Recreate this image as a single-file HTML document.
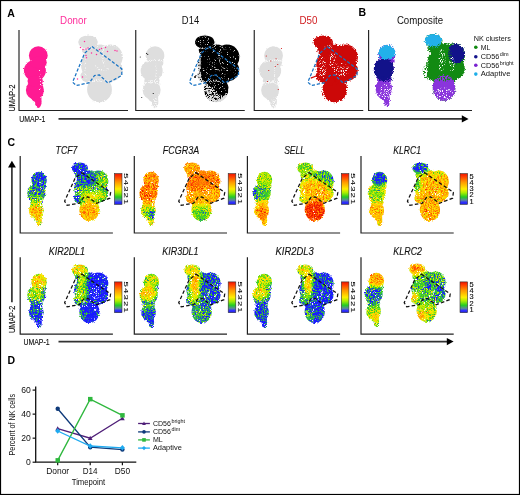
<!DOCTYPE html><html><head><meta charset="utf-8"><title>Figure</title><style>html,body{margin:0;padding:0;background:#fff}svg{display:block}</style></head><body>
<svg width="520" height="495" viewBox="0 0 520 495" font-family="'Liberation Sans', sans-serif">
<defs>
<g id="L"><ellipse cx="38.3" cy="55.6" rx="9.4" ry="9.4"/><ellipse cx="34.9" cy="70.5" rx="11.0" ry="10.6"/><ellipse cx="34.9" cy="90.0" rx="9.0" ry="9.6"/><ellipse cx="38.3" cy="101.5" rx="3.3" ry="6.4"/><ellipse cx="35.2" cy="81.0" rx="7.7" ry="6.0"/><ellipse cx="38.4" cy="62.5" rx="8.4" ry="6.0"/><ellipse cx="36.5" cy="98.0" rx="5.0" ry="4.0"/></g>
<g id="R"><ellipse cx="88.0" cy="42.0" rx="9.8" ry="6.6"/><ellipse cx="110.5" cy="57.0" rx="12.2" ry="12.4"/><ellipse cx="97.0" cy="65.0" rx="16.0" ry="16.0"/><ellipse cx="111.5" cy="70.0" rx="11.0" ry="11.0"/><ellipse cx="99.5" cy="89.5" rx="12.4" ry="12.7"/><ellipse cx="88.5" cy="76.0" rx="8.0" ry="6.5"/><ellipse cx="88.5" cy="50.0" rx="6.5" ry="6.0"/><ellipse cx="100.0" cy="50.0" rx="8.0" ry="5.5"/><ellipse cx="106.0" cy="78.0" rx="8.0" ry="6.0"/><ellipse cx="93.0" cy="80.0" rx="6.0" ry="6.0"/></g>
<path id="P" d="M92.0 46.6L121.8 68.9L121.8 75.5L107.8 83.0L99.5 75.0L94.5 75.5L89.5 82.7L76.3 85.5L72.6 82.2L84.6 53.2Z" fill="none"/>
<path id="PC" d="M61.5 -60.4L90.4 -40.7L89.6 -34.8L76.5 -29.7L67.6 -36.2L63.4 -35.4L59.3 -29.8L46.9 -27.7L44.4 -31.8L54.8 -54.5 Z" fill="none"/>
<g id="Lgap" fill="none" stroke="#f6f6f6" stroke-linecap="round"><path d="M29.5 61.8Q38 59 46.5 60.6" stroke-width="2"/><path d="M27.5 84Q35 80 43 83" stroke-width="3.6"/><path d="M38.5 100V107" stroke-width="4.5"/><path d="M39 64Q41 74 38 82" stroke-width="1.2"/></g>
<g id="Rgap" fill="none" stroke="#f6f6f6" stroke-linecap="round" stroke-width="1.8"><path d="M81 47.5Q90 49.5 97.5 46"/><path d="M103.5 47Q100.5 57 105.5 66"/><path d="M89 82Q98 78.5 110 82" stroke-width="2.6"/><path d="M95 66Q100 72 108 69"/><path d="M86 58Q84 68 86 78" stroke-width="1.4"/></g>
<clipPath id="cLR"><ellipse cx="38.3" cy="55.6" rx="9.4" ry="9.4"/><ellipse cx="34.9" cy="70.5" rx="11.0" ry="10.6"/><ellipse cx="34.9" cy="90.0" rx="9.0" ry="9.6"/><ellipse cx="38.3" cy="101.5" rx="3.3" ry="6.4"/><ellipse cx="35.2" cy="81.0" rx="7.7" ry="6.0"/><ellipse cx="38.4" cy="62.5" rx="8.4" ry="6.0"/><ellipse cx="36.5" cy="98.0" rx="5.0" ry="4.0"/><ellipse cx="88.0" cy="42.0" rx="9.8" ry="6.6"/><ellipse cx="110.5" cy="57.0" rx="12.2" ry="12.4"/><ellipse cx="97.0" cy="65.0" rx="16.0" ry="16.0"/><ellipse cx="111.5" cy="70.0" rx="11.0" ry="11.0"/><ellipse cx="99.5" cy="89.5" rx="12.4" ry="12.7"/><ellipse cx="88.5" cy="76.0" rx="8.0" ry="6.5"/><ellipse cx="88.5" cy="50.0" rx="6.5" ry="6.0"/><ellipse cx="100.0" cy="50.0" rx="8.0" ry="5.5"/><ellipse cx="106.0" cy="78.0" rx="8.0" ry="6.0"/><ellipse cx="93.0" cy="80.0" rx="6.0" ry="6.0"/></clipPath>
<clipPath id="cL"><ellipse cx="38.3" cy="55.6" rx="9.4" ry="9.4"/><ellipse cx="34.9" cy="70.5" rx="11.0" ry="10.6"/><ellipse cx="34.9" cy="90.0" rx="9.0" ry="9.6"/><ellipse cx="38.3" cy="101.5" rx="3.3" ry="6.4"/><ellipse cx="35.2" cy="81.0" rx="7.7" ry="6.0"/><ellipse cx="38.4" cy="62.5" rx="8.4" ry="6.0"/><ellipse cx="36.5" cy="98.0" rx="5.0" ry="4.0"/></clipPath>
<clipPath id="cR"><ellipse cx="88.0" cy="42.0" rx="9.8" ry="6.6"/><ellipse cx="110.5" cy="57.0" rx="12.2" ry="12.4"/><ellipse cx="97.0" cy="65.0" rx="16.0" ry="16.0"/><ellipse cx="111.5" cy="70.0" rx="11.0" ry="11.0"/><ellipse cx="99.5" cy="89.5" rx="12.4" ry="12.7"/><ellipse cx="88.5" cy="76.0" rx="8.0" ry="6.5"/><ellipse cx="88.5" cy="50.0" rx="6.5" ry="6.0"/><ellipse cx="100.0" cy="50.0" rx="8.0" ry="5.5"/><ellipse cx="106.0" cy="78.0" rx="8.0" ry="6.0"/><ellipse cx="93.0" cy="80.0" rx="6.0" ry="6.0"/></clipPath>
<filter id="rough" color-interpolation-filters="sRGB" x="-10%" y="-10%" width="120%" height="120%"><feTurbulence type="fractalNoise" baseFrequency="0.9" numOctaves="2" seed="3" result="n"/><feDisplacementMap in="SourceGraphic" in2="n" scale="2.4" xChannelSelector="R" yChannelSelector="G"/></filter>
<filter id="rough3" color-interpolation-filters="sRGB" x="-10%" y="-10%" width="120%" height="120%"><feTurbulence type="fractalNoise" baseFrequency="0.8" numOctaves="2" seed="5" result="n"/><feDisplacementMap in="SourceGraphic" in2="n" scale="3.4" xChannelSelector="R" yChannelSelector="G"/></filter>
<filter id="rough2" color-interpolation-filters="sRGB" x="-10%" y="-10%" width="120%" height="120%"><feTurbulence type="fractalNoise" baseFrequency="0.7" numOctaves="2" seed="8" result="n"/><feDisplacementMap in="SourceGraphic" in2="n" scale="4.5" xChannelSelector="R" yChannelSelector="G"/></filter>
<filter id="spk50" color-interpolation-filters="sRGB" x="-5%" y="-5%" width="110%" height="110%"><feTurbulence type="fractalNoise" baseFrequency="0.85" numOctaves="2" seed="21" result="t"/><feColorMatrix in="t" type="matrix" values="0 0 0 0 0 0 0 0 0 0 0 0 0 0 0 9 0 0 0 -4.30" result="m"/><feComposite in="SourceGraphic" in2="m" operator="in"/></filter>
<filter id="spk30" color-interpolation-filters="sRGB" x="-5%" y="-5%" width="110%" height="110%"><feTurbulence type="fractalNoise" baseFrequency="0.85" numOctaves="2" seed="21" result="t"/><feColorMatrix in="t" type="matrix" values="0 0 0 0 0 0 0 0 0 0 0 0 0 0 0 9 0 0 0 -4.90" result="m"/><feComposite in="SourceGraphic" in2="m" operator="in"/></filter>
<filter id="spk70" color-interpolation-filters="sRGB" x="-5%" y="-5%" width="110%" height="110%"><feTurbulence type="fractalNoise" baseFrequency="0.85" numOctaves="2" seed="21" result="t"/><feColorMatrix in="t" type="matrix" values="0 0 0 0 0 0 0 0 0 0 0 0 0 0 0 9 0 0 0 -3.80" result="m"/><feComposite in="SourceGraphic" in2="m" operator="in"/></filter>
<filter id="spk15" color-interpolation-filters="sRGB" x="-5%" y="-5%" width="110%" height="110%"><feTurbulence type="fractalNoise" baseFrequency="0.85" numOctaves="2" seed="21" result="t"/><feColorMatrix in="t" type="matrix" values="0 0 0 0 0 0 0 0 0 0 0 0 0 0 0 9 0 0 0 -5.75" result="m"/><feComposite in="SourceGraphic" in2="m" operator="in"/></filter>
<filter id="spk08" color-interpolation-filters="sRGB" x="-5%" y="-5%" width="110%" height="110%"><feTurbulence type="fractalNoise" baseFrequency="0.85" numOctaves="2" seed="21" result="t"/><feColorMatrix in="t" type="matrix" values="0 0 0 0 0 0 0 0 0 0 0 0 0 0 0 9 0 0 0 -6.20" result="m"/><feComposite in="SourceGraphic" in2="m" operator="in"/></filter>
<filter id="cm0" color-interpolation-filters="sRGB" x="0" y="0" width="1" height="1"><feGaussianBlur in="SourceGraphic" stdDeviation="2.3" result="lev"/><feTurbulence type="fractalNoise" baseFrequency="0.8" numOctaves="2" seed="2" result="t"/><feColorMatrix in="t" type="matrix" values="1 0 0 0 0 1 0 0 0 0 1 0 0 0 0 0 0 0 0 1" result="n"/><feComposite in="lev" in2="n" operator="arithmetic" k1="0" k2="1" k3="0.85" k4="-0.425" result="s"/><feComponentTransfer in="s"><feFuncR type="table" tableValues="0.10 0.12 0.15 0.30 0.72 1.00 1.00 1.00 1.00 1.00 0.93"/><feFuncG type="table" tableValues="0.10 0.14 0.72 0.84 0.92 0.92 0.78 0.62 0.46 0.28 0.10"/><feFuncB type="table" tableValues="1.00 0.98 0.30 0.10 0.00 0.00 0.00 0.00 0.00 0.00 0.00"/></feComponentTransfer><feGaussianBlur stdDeviation="0.35"/></filter>
<filter id="cm1" color-interpolation-filters="sRGB" x="0" y="0" width="1" height="1"><feGaussianBlur in="SourceGraphic" stdDeviation="2.3" result="lev"/><feTurbulence type="fractalNoise" baseFrequency="0.8" numOctaves="2" seed="9" result="t"/><feColorMatrix in="t" type="matrix" values="1 0 0 0 0 1 0 0 0 0 1 0 0 0 0 0 0 0 0 1" result="n"/><feComposite in="lev" in2="n" operator="arithmetic" k1="0" k2="1" k3="0.85" k4="-0.425" result="s"/><feComponentTransfer in="s"><feFuncR type="table" tableValues="0.10 0.12 0.15 0.30 0.72 1.00 1.00 1.00 1.00 1.00 0.93"/><feFuncG type="table" tableValues="0.10 0.14 0.72 0.84 0.92 0.92 0.78 0.62 0.46 0.28 0.10"/><feFuncB type="table" tableValues="1.00 0.98 0.30 0.10 0.00 0.00 0.00 0.00 0.00 0.00 0.00"/></feComponentTransfer><feGaussianBlur stdDeviation="0.35"/></filter>
<filter id="cm2" color-interpolation-filters="sRGB" x="0" y="0" width="1" height="1"><feGaussianBlur in="SourceGraphic" stdDeviation="2.3" result="lev"/><feTurbulence type="fractalNoise" baseFrequency="0.8" numOctaves="2" seed="16" result="t"/><feColorMatrix in="t" type="matrix" values="1 0 0 0 0 1 0 0 0 0 1 0 0 0 0 0 0 0 0 1" result="n"/><feComposite in="lev" in2="n" operator="arithmetic" k1="0" k2="1" k3="0.85" k4="-0.425" result="s"/><feComponentTransfer in="s"><feFuncR type="table" tableValues="0.10 0.12 0.15 0.30 0.72 1.00 1.00 1.00 1.00 1.00 0.93"/><feFuncG type="table" tableValues="0.10 0.14 0.72 0.84 0.92 0.92 0.78 0.62 0.46 0.28 0.10"/><feFuncB type="table" tableValues="1.00 0.98 0.30 0.10 0.00 0.00 0.00 0.00 0.00 0.00 0.00"/></feComponentTransfer><feGaussianBlur stdDeviation="0.35"/></filter>
<filter id="cm3" color-interpolation-filters="sRGB" x="0" y="0" width="1" height="1"><feGaussianBlur in="SourceGraphic" stdDeviation="2.3" result="lev"/><feTurbulence type="fractalNoise" baseFrequency="0.8" numOctaves="2" seed="23" result="t"/><feColorMatrix in="t" type="matrix" values="1 0 0 0 0 1 0 0 0 0 1 0 0 0 0 0 0 0 0 1" result="n"/><feComposite in="lev" in2="n" operator="arithmetic" k1="0" k2="1" k3="0.85" k4="-0.425" result="s"/><feComponentTransfer in="s"><feFuncR type="table" tableValues="0.10 0.12 0.15 0.30 0.72 1.00 1.00 1.00 1.00 1.00 0.93"/><feFuncG type="table" tableValues="0.10 0.14 0.72 0.84 0.92 0.92 0.78 0.62 0.46 0.28 0.10"/><feFuncB type="table" tableValues="1.00 0.98 0.30 0.10 0.00 0.00 0.00 0.00 0.00 0.00 0.00"/></feComponentTransfer><feGaussianBlur stdDeviation="0.35"/></filter>
<filter id="cm4" color-interpolation-filters="sRGB" x="0" y="0" width="1" height="1"><feGaussianBlur in="SourceGraphic" stdDeviation="2.3" result="lev"/><feTurbulence type="fractalNoise" baseFrequency="0.8" numOctaves="2" seed="30" result="t"/><feColorMatrix in="t" type="matrix" values="1 0 0 0 0 1 0 0 0 0 1 0 0 0 0 0 0 0 0 1" result="n"/><feComposite in="lev" in2="n" operator="arithmetic" k1="0" k2="1" k3="0.85" k4="-0.425" result="s"/><feComponentTransfer in="s"><feFuncR type="table" tableValues="0.10 0.12 0.15 0.30 0.72 1.00 1.00 1.00 1.00 1.00 0.93"/><feFuncG type="table" tableValues="0.10 0.14 0.72 0.84 0.92 0.92 0.78 0.62 0.46 0.28 0.10"/><feFuncB type="table" tableValues="1.00 0.98 0.30 0.10 0.00 0.00 0.00 0.00 0.00 0.00 0.00"/></feComponentTransfer><feGaussianBlur stdDeviation="0.35"/></filter>
<filter id="cm5" color-interpolation-filters="sRGB" x="0" y="0" width="1" height="1"><feGaussianBlur in="SourceGraphic" stdDeviation="2.3" result="lev"/><feTurbulence type="fractalNoise" baseFrequency="0.8" numOctaves="2" seed="37" result="t"/><feColorMatrix in="t" type="matrix" values="1 0 0 0 0 1 0 0 0 0 1 0 0 0 0 0 0 0 0 1" result="n"/><feComposite in="lev" in2="n" operator="arithmetic" k1="0" k2="1" k3="0.85" k4="-0.425" result="s"/><feComponentTransfer in="s"><feFuncR type="table" tableValues="0.10 0.12 0.15 0.30 0.72 1.00 1.00 1.00 1.00 1.00 0.93"/><feFuncG type="table" tableValues="0.10 0.14 0.72 0.84 0.92 0.92 0.78 0.62 0.46 0.28 0.10"/><feFuncB type="table" tableValues="1.00 0.98 0.30 0.10 0.00 0.00 0.00 0.00 0.00 0.00 0.00"/></feComponentTransfer><feGaussianBlur stdDeviation="0.35"/></filter>
<filter id="cm6" color-interpolation-filters="sRGB" x="0" y="0" width="1" height="1"><feGaussianBlur in="SourceGraphic" stdDeviation="2.3" result="lev"/><feTurbulence type="fractalNoise" baseFrequency="0.8" numOctaves="2" seed="44" result="t"/><feColorMatrix in="t" type="matrix" values="1 0 0 0 0 1 0 0 0 0 1 0 0 0 0 0 0 0 0 1" result="n"/><feComposite in="lev" in2="n" operator="arithmetic" k1="0" k2="1" k3="0.85" k4="-0.425" result="s"/><feComponentTransfer in="s"><feFuncR type="table" tableValues="0.10 0.12 0.15 0.30 0.72 1.00 1.00 1.00 1.00 1.00 0.93"/><feFuncG type="table" tableValues="0.10 0.14 0.72 0.84 0.92 0.92 0.78 0.62 0.46 0.28 0.10"/><feFuncB type="table" tableValues="1.00 0.98 0.30 0.10 0.00 0.00 0.00 0.00 0.00 0.00 0.00"/></feComponentTransfer><feGaussianBlur stdDeviation="0.35"/></filter>
<filter id="cm7" color-interpolation-filters="sRGB" x="0" y="0" width="1" height="1"><feGaussianBlur in="SourceGraphic" stdDeviation="2.3" result="lev"/><feTurbulence type="fractalNoise" baseFrequency="0.8" numOctaves="2" seed="51" result="t"/><feColorMatrix in="t" type="matrix" values="1 0 0 0 0 1 0 0 0 0 1 0 0 0 0 0 0 0 0 1" result="n"/><feComposite in="lev" in2="n" operator="arithmetic" k1="0" k2="1" k3="0.85" k4="-0.425" result="s"/><feComponentTransfer in="s"><feFuncR type="table" tableValues="0.10 0.12 0.15 0.30 0.72 1.00 1.00 1.00 1.00 1.00 0.93"/><feFuncG type="table" tableValues="0.10 0.14 0.72 0.84 0.92 0.92 0.78 0.62 0.46 0.28 0.10"/><feFuncB type="table" tableValues="1.00 0.98 0.30 0.10 0.00 0.00 0.00 0.00 0.00 0.00 0.00"/></feComponentTransfer><feGaussianBlur stdDeviation="0.35"/></filter>
<linearGradient id="cb" x1="0" y1="0" x2="0" y2="1"><stop offset="0" stop-color="#e81800"/><stop offset="0.08" stop-color="#ff3300"/><stop offset="0.28" stop-color="#ff9900"/><stop offset="0.5" stop-color="#ffee00"/><stop offset="0.62" stop-color="#aaee00"/><stop offset="0.76" stop-color="#22cc22"/><stop offset="0.86" stop-color="#5a8a9a"/><stop offset="0.93" stop-color="#3030ff"/><stop offset="1" stop-color="#2020e0"/></linearGradient>
</defs>
<rect x="0" y="0" width="520" height="495" fill="#fff"/>
<rect x="0.5" y="0.5" width="519" height="494" fill="none" stroke="#000" stroke-width="1.2"/>
<text x="7.2" y="16.6" font-size="10.5" font-weight="bold" fill="#000">A</text>
<text x="358.6" y="16.4" font-size="10.5" font-weight="bold" fill="#000">B</text>
<text x="7.4" y="145.6" font-size="10.5" font-weight="bold" fill="#000">C</text>
<text x="7.6" y="364.0" font-size="10.5" font-weight="bold" fill="#000">D</text>
<path d="M19.00 30.00V110.50H128.00" fill="none" stroke="#222" stroke-width="1.15"/>
<text x="73.4" y="24.3" font-size="10.2" fill="#ff2d9b" text-anchor="middle" textLength="26.6" lengthAdjust="spacingAndGlyphs">Donor</text>
<path d="M135.75 30.00V110.50H244.75" fill="none" stroke="#222" stroke-width="1.15"/>
<text x="190.5" y="24.3" font-size="10.2" fill="#111" text-anchor="middle" textLength="17.3" lengthAdjust="spacingAndGlyphs">D14</text>
<path d="M254.25 30.00V110.50H363.25" fill="none" stroke="#222" stroke-width="1.15"/>
<text x="308.5" y="24.3" font-size="10.2" fill="#d01c1f" text-anchor="middle" textLength="18.0" lengthAdjust="spacingAndGlyphs">D50</text>
<g filter="url(#rough)">
<use href="#L" fill="#ff1a93"/><use href="#R" fill="#dedede"/>
</g>
<g filter="url(#spk50)"><use href="#Rgap"/></g>
<g filter="url(#spk30)"><path d="M40 70Q42 78 39 92" fill="none" stroke="#fff" stroke-width="2.2"/></g>
<g fill="#ff2d9b"><circle cx="84.5" cy="41.5" r="0.75"/><circle cx="80.5" cy="47.5" r="0.75"/><circle cx="83.0" cy="49.5" r="0.75"/><circle cx="86.0" cy="49.0" r="0.75"/><circle cx="88.0" cy="48.0" r="0.75"/><circle cx="91.5" cy="53.0" r="0.75"/><circle cx="96.5" cy="54.5" r="0.75"/><circle cx="99.5" cy="49.5" r="0.75"/><circle cx="101.5" cy="48.5" r="0.75"/><circle cx="105.5" cy="47.5" r="0.75"/><circle cx="107.5" cy="51.5" r="0.75"/><circle cx="115.0" cy="50.5" r="0.75"/><circle cx="117.0" cy="51.0" r="0.75"/><circle cx="86.0" cy="55.5" r="0.75"/><circle cx="86.5" cy="57.8" r="0.75"/><circle cx="77.5" cy="79.0" r="0.75"/><circle cx="82.5" cy="77.0" r="0.75"/></g>
<use href="#P" stroke="#1873c4" stroke-width="1.25" stroke-dasharray="3.2 1.8"/>
<g transform="translate(116.75 0)">
<g filter="url(#rough)"><use href="#L" fill="#dedede"/><use href="#R" fill="#dedede"/>
</g>
<g filter="url(#spk50)"><use href="#Lgap"/></g>
<g clip-path="url(#cR)"><g filter="url(#rough2)"><path d="M74 30H130V82L113 88L110 94L103 96L96 88L90 84L85 80L83 70L84 58L80 50Z" fill="#000"/></g>
<g filter="url(#spk50)" fill="#000"><ellipse cx="97" cy="91" rx="11" ry="10.5"/><ellipse cx="85" cy="68" rx="5" ry="14"/></g></g>
<g clip-path="url(#cR)"><g filter="url(#spk15)" fill="#e0e0e0"><rect x="70" y="30" width="60" height="80"/></g></g>
<g filter="url(#spk50)" fill="none" stroke="#d8d8d8" stroke-width="1.7" stroke-linecap="round"><path d="M81 47.5Q90 49.5 97.5 46"/><path d="M103.5 47Q100.5 57 105.5 66"/><path d="M89 82.5Q98 79 104 82"/><path d="M84 55Q82 66 84.5 78"/><path d="M95 66Q100 72 108 69"/></g>
<g fill="#111"><circle cx="78.3" cy="77" r="1.1"/><circle cx="79.2" cy="75.6" r="0.7"/><circle cx="29.8" cy="53.5" r="0.6"/><circle cx="31" cy="54.3" r="0.6"/><circle cx="23.5" cy="57" r="0.5"/><circle cx="36.5" cy="93.5" r="0.6"/><circle cx="25" cy="97.5" r="0.5"/></g>
<use href="#P" stroke="#1873c4" stroke-width="1.25" stroke-dasharray="3.2 1.8"/>
</g>
<g transform="translate(235.25 0)">
<g filter="url(#rough)"><use href="#L" fill="#dedede"/></g><g filter="url(#spk50)"><use href="#Lgap"/></g><g filter="url(#rough2)"><use href="#R" fill="#cc0808"/></g>
<g filter="url(#spk30)" fill="#f3eaea"><ellipse cx="106" cy="70" rx="8" ry="7"/><ellipse cx="87" cy="68" rx="4" ry="11"/><ellipse cx="97" cy="60" rx="3.5" ry="8"/><ellipse cx="93" cy="46.5" rx="4" ry="1.6"/></g>
<path d="M75.5 78.2L81 76" stroke="#cc0808" stroke-width="1.3"/>
<g fill="#d01010"><circle cx="46.2" cy="48.5" r="0.55"/><circle cx="31.0" cy="56.0" r="0.55"/><circle cx="40.8" cy="58.8" r="0.55"/><circle cx="35.5" cy="61.0" r="0.55"/><circle cx="42.5" cy="64.5" r="0.55"/><circle cx="40.0" cy="66.5" r="0.55"/><circle cx="33.5" cy="70.5" r="0.55"/><circle cx="32.2" cy="81.5" r="0.55"/><circle cx="43.0" cy="89.5" r="0.55"/></g>
<use href="#P" stroke="#1873c4" stroke-width="1.25" stroke-dasharray="3.2 1.8"/>
</g>
<path d="M368.60 30.00V110.50H472.00" fill="none" stroke="#222" stroke-width="1.15"/>
<text x="420" y="24.1" font-size="10.2" fill="#111" text-anchor="middle" textLength="46.2" lengthAdjust="spacingAndGlyphs">Composite</text>
<g transform="translate(353.5 -1.4) scale(0.91 1)">
<g transform="translate(-1.6 0)"><g filter="url(#rough2)">
<g clip-path="url(#cL)"><rect x="20" y="40" width="32" height="50" fill="#7d2bd6"/><rect x="20" y="81" width="32" height="30" fill="#8a35dc"/><ellipse cx="35" cy="71" rx="11.5" ry="11" fill="#12128a"/><ellipse cx="38.5" cy="53.2" rx="10" ry="7.6" fill="#22b0ea"/></g>
</g></g>
<g filter="url(#rough2)">
<g clip-path="url(#cR)"><rect x="70" y="30" width="60" height="80" fill="#128a12"/><ellipse cx="113.5" cy="54.5" rx="9.5" ry="10.5" fill="#12128a"/><ellipse cx="99.5" cy="91" rx="13.5" ry="14.5" fill="#8a35dc"/><ellipse cx="87" cy="41" rx="10.5" ry="7.6" fill="#22b0ea"/></g>
</g>
<g filter="url(#spk50)"><ellipse cx="81" cy="73" rx="5" ry="8" fill="#128a12"/><ellipse cx="104" cy="58" rx="4" ry="9" fill="#128a12"/><ellipse cx="99" cy="79" rx="9" ry="4" fill="#128a12"/><ellipse cx="36" cy="80.5" rx="8" ry="3" fill="#12128a"/><ellipse cx="86" cy="50" rx="5" ry="3" fill="#128a12"/></g>
<g filter="url(#spk30)" fill="#fff"><ellipse cx="36" cy="93" rx="7" ry="8"/><ellipse cx="99.5" cy="95" rx="10" ry="6"/><ellipse cx="97" cy="62" rx="4" ry="12"/><ellipse cx="108" cy="66" rx="3" ry="8"/></g>
</g>
<text x="473.8" y="40.9" font-size="8" fill="#111" textLength="37" lengthAdjust="spacingAndGlyphs">NK clusters</text>
<circle cx="475.8" cy="47.2" r="1.8" fill="#128a12"/>
<text x="480.8" y="49.8" font-size="8" fill="#111" textLength="9.5" lengthAdjust="spacingAndGlyphs">ML</text>
<circle cx="475.8" cy="56.8" r="1.8" fill="#14148c"/>
<text x="480.8" y="58.9" font-size="8" fill="#111" textLength="18.5" lengthAdjust="spacingAndGlyphs">CD56</text>
<text x="499.8" y="55.7" font-size="5.5" fill="#111">dim</text>
<circle cx="475.8" cy="65.2" r="1.8" fill="#7a22d0"/>
<text x="480.8" y="68.0" font-size="8" fill="#111" textLength="18.5" lengthAdjust="spacingAndGlyphs">CD56</text>
<text x="499.8" y="64.8" font-size="5.5" fill="#111">bright</text>
<circle cx="475.8" cy="74.1" r="1.8" fill="#1eaee8"/>
<text x="480.8" y="75.9" font-size="8" fill="#111" textLength="29.6" lengthAdjust="spacingAndGlyphs">Adaptive</text>
<text transform="translate(15.3 111.5) rotate(-90)" font-size="9.8" fill="#111" stroke="#111" stroke-width="0.15" textLength="27" lengthAdjust="spacingAndGlyphs">UMAP-2</text>
<text x="19.2" y="122.3" font-size="9.8" fill="#111" stroke="#111" stroke-width="0.15" textLength="26.2" lengthAdjust="spacingAndGlyphs">UMAP-1</text>
<path d="M58.5 118.9H463" stroke="#333" stroke-width="1.7" fill="none"/><path d="M468.6 118.9L461.8 115.2V122.6Z" fill="#000"/>
<path d="M20.20 156.00V233.00H112.90" fill="none" stroke="#222" stroke-width="1.20"/>
<text x="66.5" y="154.1" font-size="10" font-style="italic" fill="#111" stroke="#111" stroke-width="0.12" text-anchor="middle" textLength="21.8" lengthAdjust="spacingAndGlyphs">TCF7</text>
<g transform="translate(7.60 131.30) scale(0.822 0.878)">
<g filter="url(#rough3)"><g clip-path="url(#cLR)"><g filter="url(#cm0)"><rect x="15" y="25" width="120" height="95" fill="#333333"/><ellipse cx="38.0" cy="55.0" rx="12.0" ry="10.0" fill="#1f1f1f"/><ellipse cx="34.0" cy="71.0" rx="13.0" ry="8.0" fill="#383838"/><ellipse cx="35.0" cy="81.0" rx="12.0" ry="4.0" fill="#616161"/><ellipse cx="35.0" cy="92.0" rx="12.0" ry="8.0" fill="#a3a3a3"/><ellipse cx="38.0" cy="104.0" rx="5.0" ry="6.0" fill="#949494"/><ellipse cx="87.0" cy="41.0" rx="12.0" ry="8.0" fill="#121212"/><ellipse cx="96.0" cy="55.0" rx="13.0" ry="8.0" fill="#1a1a1a"/><ellipse cx="116.0" cy="57.0" rx="8.0" ry="10.0" fill="#5c5c5c"/><ellipse cx="100.0" cy="68.0" rx="20.0" ry="5.0" fill="#525252"/><ellipse cx="102.0" cy="75.0" rx="20.0" ry="5.0" fill="#7a7a7a"/><ellipse cx="84.0" cy="76.0" rx="5.0" ry="4.0" fill="#0d0d0d"/><ellipse cx="99.0" cy="92.0" rx="15.0" ry="12.0" fill="#a6a6a6"/></g><g filter="url(#spk08)" fill="#fff"><rect x="15" y="25" width="120" height="95"/></g><g filter="url(#spk30)" fill="#fff"><ellipse cx="106" cy="69" rx="4.5" ry="5"/><ellipse cx="85.5" cy="70" rx="2.5" ry="8"/><ellipse cx="40" cy="82" rx="2" ry="7"/><ellipse cx="93" cy="47" rx="4" ry="1.5"/></g></g></g>
</g>
<use href="#PC" x="20.20" y="233.00" stroke="#111" stroke-width="1.25" stroke-dasharray="3.6 2.2"/>
<rect x="114.4" y="173.6" width="7.6" height="30.8" fill="url(#cb)" stroke="#333" stroke-width="0.6"/>
<text transform="translate(124.3 175.9)  rotate(90) scale(1.6 1)" font-size="6" fill="#111" stroke="#111" stroke-width="0.12" text-anchor="middle">5</text>
<text transform="translate(124.3 182.3)  rotate(90) scale(1.6 1)" font-size="6" fill="#111" stroke="#111" stroke-width="0.12" text-anchor="middle">4</text>
<text transform="translate(124.3 188.8)  rotate(90) scale(1.6 1)" font-size="6" fill="#111" stroke="#111" stroke-width="0.12" text-anchor="middle">3</text>
<text transform="translate(124.3 195.2)  rotate(90) scale(1.6 1)" font-size="6" fill="#111" stroke="#111" stroke-width="0.12" text-anchor="middle">2</text>
<text transform="translate(124.3 201.7)  rotate(90) scale(1.6 1)" font-size="6" fill="#111" stroke="#111" stroke-width="0.12" text-anchor="middle">1</text>
<path d="M134.30 156.00V233.00H227.00" fill="none" stroke="#222" stroke-width="1.20"/>
<text x="181.0" y="154.1" font-size="10" font-style="italic" fill="#111" stroke="#111" stroke-width="0.12" text-anchor="middle" textLength="36.3" lengthAdjust="spacingAndGlyphs">FCGR3A</text>
<g transform="translate(119.70 131.30) scale(0.822 0.878)">
<g filter="url(#rough3)"><g clip-path="url(#cLR)"><g filter="url(#cm1)"><rect x="15" y="25" width="120" height="95" fill="#b7b7b7"/><ellipse cx="38.0" cy="55.0" rx="12.0" ry="10.0" fill="#b8b8b8"/><ellipse cx="33.0" cy="70.0" rx="12.0" ry="9.0" fill="#c7c7c7"/><ellipse cx="35.0" cy="86.0" rx="12.0" ry="4.0" fill="#808080"/><ellipse cx="33.0" cy="94.0" rx="9.0" ry="5.0" fill="#4c4c4c"/><ellipse cx="41.0" cy="95.0" rx="4.0" ry="7.0" fill="#0f0f0f"/><ellipse cx="38.0" cy="105.0" rx="4.0" ry="4.0" fill="#6b6b6b"/><ellipse cx="87.0" cy="41.0" rx="12.0" ry="8.0" fill="#b2b2b2"/><ellipse cx="100.0" cy="58.0" rx="20.0" ry="12.0" fill="#c7c7c7"/><ellipse cx="100.0" cy="74.0" rx="24.0" ry="6.0" fill="#a8a8a8"/><ellipse cx="99.0" cy="87.0" rx="15.0" ry="5.0" fill="#6b6b6b"/><ellipse cx="99.0" cy="95.0" rx="14.0" ry="5.0" fill="#474747"/><ellipse cx="100.0" cy="102.5" rx="10.0" ry="2.0" fill="#080808"/></g><g filter="url(#spk08)" fill="#fff"><rect x="15" y="25" width="120" height="95"/></g><g filter="url(#spk30)" fill="#fff"><ellipse cx="106" cy="69" rx="4.5" ry="5"/><ellipse cx="85.5" cy="70" rx="2.5" ry="8"/><ellipse cx="40" cy="82" rx="2" ry="7"/><ellipse cx="93" cy="47" rx="4" ry="1.5"/></g></g></g>
</g>
<use href="#PC" x="134.30" y="233.00" stroke="#111" stroke-width="1.25" stroke-dasharray="3.6 2.2"/>
<rect x="228.2" y="173.6" width="7.6" height="30.8" fill="url(#cb)" stroke="#333" stroke-width="0.6"/>
<text transform="translate(238.1 175.9)  rotate(90) scale(1.6 1)" font-size="6" fill="#111" stroke="#111" stroke-width="0.12" text-anchor="middle">5</text>
<text transform="translate(238.1 182.3)  rotate(90) scale(1.6 1)" font-size="6" fill="#111" stroke="#111" stroke-width="0.12" text-anchor="middle">4</text>
<text transform="translate(238.1 188.8)  rotate(90) scale(1.6 1)" font-size="6" fill="#111" stroke="#111" stroke-width="0.12" text-anchor="middle">3</text>
<text transform="translate(238.1 195.2)  rotate(90) scale(1.6 1)" font-size="6" fill="#111" stroke="#111" stroke-width="0.12" text-anchor="middle">2</text>
<text transform="translate(238.1 201.7)  rotate(90) scale(1.6 1)" font-size="6" fill="#111" stroke="#111" stroke-width="0.12" text-anchor="middle">1</text>
<path d="M247.40 156.00V233.00H340.10" fill="none" stroke="#222" stroke-width="1.20"/>
<text x="294.6" y="154.1" font-size="10" font-style="italic" fill="#111" stroke="#111" stroke-width="0.12" text-anchor="middle" textLength="20.8" lengthAdjust="spacingAndGlyphs">SELL</text>
<g transform="translate(233.00 131.30) scale(0.822 0.878)">
<g filter="url(#rough3)"><g clip-path="url(#cLR)"><g filter="url(#cm2)"><rect x="15" y="25" width="120" height="95" fill="#666666"/><ellipse cx="38.0" cy="54.0" rx="12.0" ry="10.0" fill="#616161"/><ellipse cx="33.0" cy="70.0" rx="12.0" ry="8.0" fill="#3d3d3d"/><ellipse cx="26.0" cy="68.0" rx="3.0" ry="7.0" fill="#1a1a1a"/><ellipse cx="35.0" cy="83.0" rx="12.0" ry="4.0" fill="#999999"/><ellipse cx="36.0" cy="94.0" rx="10.0" ry="8.0" fill="#c7c7c7"/><ellipse cx="38.0" cy="105.0" rx="4.0" ry="4.0" fill="#adadad"/><ellipse cx="87.0" cy="41.0" rx="12.0" ry="8.0" fill="#5c5c5c"/><ellipse cx="112.0" cy="53.0" rx="12.0" ry="8.0" fill="#404040"/><ellipse cx="121.5" cy="51.0" rx="2.5" ry="7.0" fill="#0a0a0a"/><ellipse cx="110.0" cy="45.0" rx="7.0" ry="2.0" fill="#141414"/><ellipse cx="99.0" cy="66.0" rx="17.0" ry="11.0" fill="#a3a3a3"/><ellipse cx="112.0" cy="74.0" rx="9.0" ry="6.0" fill="#a8a8a8"/><ellipse cx="99.0" cy="82.0" rx="11.0" ry="4.0" fill="#cccccc"/><ellipse cx="99.0" cy="92.0" rx="15.0" ry="12.0" fill="#f7f7f7"/></g><g filter="url(#spk08)" fill="#fff"><rect x="15" y="25" width="120" height="95"/></g><g filter="url(#spk30)" fill="#fff"><ellipse cx="106" cy="69" rx="4.5" ry="5"/><ellipse cx="85.5" cy="70" rx="2.5" ry="8"/><ellipse cx="40" cy="82" rx="2" ry="7"/><ellipse cx="93" cy="47" rx="4" ry="1.5"/></g></g></g>
</g>
<use href="#PC" x="247.40" y="233.00" stroke="#111" stroke-width="1.25" stroke-dasharray="3.6 2.2"/>
<rect x="341.3" y="173.6" width="7.6" height="30.8" fill="url(#cb)" stroke="#333" stroke-width="0.6"/>
<text transform="translate(351.2 175.9)  rotate(90) scale(1.6 1)" font-size="6" fill="#111" stroke="#111" stroke-width="0.12" text-anchor="middle">5</text>
<text transform="translate(351.2 182.3)  rotate(90) scale(1.6 1)" font-size="6" fill="#111" stroke="#111" stroke-width="0.12" text-anchor="middle">4</text>
<text transform="translate(351.2 188.8)  rotate(90) scale(1.6 1)" font-size="6" fill="#111" stroke="#111" stroke-width="0.12" text-anchor="middle">3</text>
<text transform="translate(351.2 195.2)  rotate(90) scale(1.6 1)" font-size="6" fill="#111" stroke="#111" stroke-width="0.12" text-anchor="middle">2</text>
<text transform="translate(351.2 201.7)  rotate(90) scale(1.6 1)" font-size="6" fill="#111" stroke="#111" stroke-width="0.12" text-anchor="middle">1</text>
<path d="M361.00 156.00V233.00H453.70" fill="none" stroke="#222" stroke-width="1.20"/>
<text x="407.2" y="154.1" font-size="10" font-style="italic" fill="#111" stroke="#111" stroke-width="0.12" text-anchor="middle" textLength="27.7" lengthAdjust="spacingAndGlyphs">KLRC1</text>
<g transform="translate(348.10 131.30) scale(0.822 0.878)">
<g filter="url(#rough3)"><g clip-path="url(#cLR)"><g filter="url(#cm3)"><rect x="15" y="25" width="120" height="95" fill="#a0a0a0"/><ellipse cx="38.0" cy="53.0" rx="12.0" ry="9.0" fill="#0d0d0d"/><ellipse cx="34.0" cy="72.0" rx="12.0" ry="10.0" fill="#595959"/><ellipse cx="35.0" cy="92.0" rx="11.0" ry="8.0" fill="#a3a3a3"/><ellipse cx="38.0" cy="104.0" rx="4.0" ry="5.0" fill="#8f8f8f"/><ellipse cx="87.0" cy="41.0" rx="12.0" ry="8.0" fill="#121212"/><ellipse cx="103.0" cy="66.0" rx="22.0" ry="18.0" fill="#a3a3a3"/><ellipse cx="110.0" cy="47.0" rx="10.0" ry="3.5" fill="#6b6b6b"/><ellipse cx="84.0" cy="60.0" rx="4.0" ry="10.0" fill="#333333"/><ellipse cx="99.0" cy="92.0" rx="15.0" ry="12.0" fill="#a6a6a6"/></g><g filter="url(#spk08)" fill="#fff"><rect x="15" y="25" width="120" height="95"/></g><g filter="url(#spk30)" fill="#fff"><ellipse cx="106" cy="69" rx="4.5" ry="5"/><ellipse cx="85.5" cy="70" rx="2.5" ry="8"/><ellipse cx="40" cy="82" rx="2" ry="7"/><ellipse cx="93" cy="47" rx="4" ry="1.5"/></g></g></g>
</g>
<use href="#PC" x="363.00" y="233.00" stroke="#111" stroke-width="1.25" stroke-dasharray="3.6 2.2"/>
<rect x="460.0" y="173.6" width="7.6" height="30.8" fill="url(#cb)" stroke="#333" stroke-width="0.6"/>
<text x="469.5" y="178.6" font-size="7.4" fill="#111" stroke="#111" stroke-width="0.15">5</text>
<text x="469.5" y="184.5" font-size="7.4" fill="#111" stroke="#111" stroke-width="0.15">4</text>
<text x="469.5" y="190.5" font-size="7.4" fill="#111" stroke="#111" stroke-width="0.15">3</text>
<text x="469.5" y="197.2" font-size="7.4" fill="#111" stroke="#111" stroke-width="0.15">2</text>
<text x="469.5" y="203.6" font-size="7.4" fill="#111" stroke="#111" stroke-width="0.15">1</text>
<path d="M20.20 257.20V334.20H112.90" fill="none" stroke="#222" stroke-width="1.20"/>
<text x="66.9" y="255.3" font-size="10" font-style="italic" fill="#111" stroke="#111" stroke-width="0.12" text-anchor="middle" textLength="36.3" lengthAdjust="spacingAndGlyphs">KIR2DL1</text>
<g transform="translate(7.60 233.30) scale(0.822 0.878)">
<g filter="url(#rough3)"><g clip-path="url(#cLR)"><g filter="url(#cm4)"><rect x="15" y="25" width="120" height="95" fill="#070707"/><ellipse cx="38.0" cy="54.0" rx="12.0" ry="9.0" fill="#949494"/><ellipse cx="33.0" cy="69.0" rx="12.0" ry="9.0" fill="#666666"/><ellipse cx="36.0" cy="80.0" rx="9.0" ry="4.0" fill="#262626"/><ellipse cx="34.0" cy="92.0" rx="10.0" ry="8.0" fill="#121212"/><ellipse cx="30.0" cy="90.0" rx="4.0" ry="4.0" fill="#333333"/><ellipse cx="87.0" cy="41.0" rx="12.0" ry="8.0" fill="#8a8a8a"/><ellipse cx="92.0" cy="60.0" rx="8.0" ry="14.0" fill="#666666"/><ellipse cx="89.0" cy="73.0" rx="9.0" ry="7.0" fill="#666666"/><ellipse cx="110.0" cy="62.0" rx="14.0" ry="20.0" fill="#050505"/><ellipse cx="99.0" cy="92.0" rx="15.0" ry="12.0" fill="#0a0a0a"/><ellipse cx="90.0" cy="94.0" rx="4.0" ry="5.0" fill="#333333"/></g><g filter="url(#spk15)" fill="#fff"><rect x="15" y="25" width="120" height="95"/></g><g filter="url(#spk30)" fill="#fff"><ellipse cx="106" cy="69" rx="4.5" ry="5"/><ellipse cx="85.5" cy="70" rx="2.5" ry="8"/><ellipse cx="40" cy="82" rx="2" ry="7"/><ellipse cx="93" cy="47" rx="4" ry="1.5"/></g></g></g>
</g>
<use href="#PC" x="20.20" y="334.50" stroke="#111" stroke-width="1.25" stroke-dasharray="3.6 2.2"/>
<rect x="114.4" y="281.9" width="7.6" height="30.8" fill="url(#cb)" stroke="#333" stroke-width="0.6"/>
<text transform="translate(124.3 284.2)  rotate(90) scale(1.6 1)" font-size="6" fill="#111" stroke="#111" stroke-width="0.12" text-anchor="middle">5</text>
<text transform="translate(124.3 290.6)  rotate(90) scale(1.6 1)" font-size="6" fill="#111" stroke="#111" stroke-width="0.12" text-anchor="middle">4</text>
<text transform="translate(124.3 297.1)  rotate(90) scale(1.6 1)" font-size="6" fill="#111" stroke="#111" stroke-width="0.12" text-anchor="middle">3</text>
<text transform="translate(124.3 303.6)  rotate(90) scale(1.6 1)" font-size="6" fill="#111" stroke="#111" stroke-width="0.12" text-anchor="middle">2</text>
<text transform="translate(124.3 310.0)  rotate(90) scale(1.6 1)" font-size="6" fill="#111" stroke="#111" stroke-width="0.12" text-anchor="middle">1</text>
<path d="M134.30 257.20V334.20H227.00" fill="none" stroke="#222" stroke-width="1.20"/>
<text x="180.4" y="255.3" font-size="10" font-style="italic" fill="#111" stroke="#111" stroke-width="0.12" text-anchor="middle" textLength="36.3" lengthAdjust="spacingAndGlyphs">KIR3DL1</text>
<g transform="translate(119.90 233.30) scale(0.822 0.878)">
<g filter="url(#rough3)"><g clip-path="url(#cLR)"><g filter="url(#cm5)"><rect x="15" y="25" width="120" height="95" fill="#191919"/><ellipse cx="38.0" cy="53.0" rx="12.0" ry="8.0" fill="#707070"/><ellipse cx="33.0" cy="68.0" rx="12.0" ry="8.0" fill="#999999"/><ellipse cx="35.0" cy="82.0" rx="12.0" ry="6.0" fill="#404040"/><ellipse cx="35.0" cy="95.0" rx="11.0" ry="9.0" fill="#1a1a1a"/><ellipse cx="87.0" cy="41.0" rx="12.0" ry="8.0" fill="#808080"/><ellipse cx="93.0" cy="60.0" rx="8.0" ry="14.0" fill="#adadad"/><ellipse cx="90.0" cy="74.0" rx="8.0" ry="6.0" fill="#737373"/><ellipse cx="110.0" cy="62.0" rx="14.0" ry="18.0" fill="#1c1c1c"/><ellipse cx="99.0" cy="92.0" rx="15.0" ry="12.0" fill="#333333"/></g><g filter="url(#spk15)" fill="#fff"><rect x="15" y="25" width="120" height="95"/></g><g filter="url(#spk30)" fill="#fff"><ellipse cx="106" cy="69" rx="4.5" ry="5"/><ellipse cx="85.5" cy="70" rx="2.5" ry="8"/><ellipse cx="40" cy="82" rx="2" ry="7"/><ellipse cx="93" cy="47" rx="4" ry="1.5"/></g></g></g>
</g>
<use href="#PC" x="134.30" y="334.50" stroke="#111" stroke-width="1.25" stroke-dasharray="3.6 2.2"/>
<rect x="228.2" y="281.9" width="7.6" height="30.8" fill="url(#cb)" stroke="#333" stroke-width="0.6"/>
<text transform="translate(238.1 284.2)  rotate(90) scale(1.6 1)" font-size="6" fill="#111" stroke="#111" stroke-width="0.12" text-anchor="middle">5</text>
<text transform="translate(238.1 290.6)  rotate(90) scale(1.6 1)" font-size="6" fill="#111" stroke="#111" stroke-width="0.12" text-anchor="middle">4</text>
<text transform="translate(238.1 297.1)  rotate(90) scale(1.6 1)" font-size="6" fill="#111" stroke="#111" stroke-width="0.12" text-anchor="middle">3</text>
<text transform="translate(238.1 303.6)  rotate(90) scale(1.6 1)" font-size="6" fill="#111" stroke="#111" stroke-width="0.12" text-anchor="middle">2</text>
<text transform="translate(238.1 310.0)  rotate(90) scale(1.6 1)" font-size="6" fill="#111" stroke="#111" stroke-width="0.12" text-anchor="middle">1</text>
<path d="M247.40 257.20V334.20H340.10" fill="none" stroke="#222" stroke-width="1.20"/>
<text x="294.6" y="255.3" font-size="10" font-style="italic" fill="#111" stroke="#111" stroke-width="0.12" text-anchor="middle" textLength="38.0" lengthAdjust="spacingAndGlyphs">KIR2DL3</text>
<g transform="translate(232.90 233.30) scale(0.822 0.878)">
<g filter="url(#rough3)"><g clip-path="url(#cLR)"><g filter="url(#cm6)"><rect x="15" y="25" width="120" height="95" fill="#0c0c0c"/><ellipse cx="38.0" cy="53.0" rx="12.0" ry="8.0" fill="#6b6b6b"/><ellipse cx="33.0" cy="68.0" rx="12.0" ry="8.0" fill="#808080"/><ellipse cx="35.0" cy="82.0" rx="12.0" ry="6.0" fill="#1f1f1f"/><ellipse cx="35.0" cy="95.0" rx="11.0" ry="9.0" fill="#1f1f1f"/><ellipse cx="87.0" cy="41.0" rx="12.0" ry="8.0" fill="#808080"/><ellipse cx="93.0" cy="58.0" rx="7.0" ry="12.0" fill="#9e9e9e"/><ellipse cx="89.0" cy="73.0" rx="8.0" ry="6.0" fill="#595959"/><ellipse cx="110.0" cy="62.0" rx="14.0" ry="18.0" fill="#0d0d0d"/><ellipse cx="99.0" cy="92.0" rx="15.0" ry="12.0" fill="#1a1a1a"/><ellipse cx="91.0" cy="94.0" rx="5.0" ry="6.0" fill="#4c4c4c"/></g><g filter="url(#spk15)" fill="#fff"><rect x="15" y="25" width="120" height="95"/></g><g filter="url(#spk30)" fill="#fff"><ellipse cx="106" cy="69" rx="4.5" ry="5"/><ellipse cx="85.5" cy="70" rx="2.5" ry="8"/><ellipse cx="40" cy="82" rx="2" ry="7"/><ellipse cx="93" cy="47" rx="4" ry="1.5"/></g></g></g>
</g>
<use href="#PC" x="247.40" y="334.50" stroke="#111" stroke-width="1.25" stroke-dasharray="3.6 2.2"/>
<rect x="341.3" y="281.9" width="7.6" height="30.8" fill="url(#cb)" stroke="#333" stroke-width="0.6"/>
<text transform="translate(351.2 284.2)  rotate(90) scale(1.6 1)" font-size="6" fill="#111" stroke="#111" stroke-width="0.12" text-anchor="middle">5</text>
<text transform="translate(351.2 290.6)  rotate(90) scale(1.6 1)" font-size="6" fill="#111" stroke="#111" stroke-width="0.12" text-anchor="middle">4</text>
<text transform="translate(351.2 297.1)  rotate(90) scale(1.6 1)" font-size="6" fill="#111" stroke="#111" stroke-width="0.12" text-anchor="middle">3</text>
<text transform="translate(351.2 303.6)  rotate(90) scale(1.6 1)" font-size="6" fill="#111" stroke="#111" stroke-width="0.12" text-anchor="middle">2</text>
<text transform="translate(351.2 310.0)  rotate(90) scale(1.6 1)" font-size="6" fill="#111" stroke="#111" stroke-width="0.12" text-anchor="middle">1</text>
<path d="M361.00 257.20V334.20H453.70" fill="none" stroke="#222" stroke-width="1.20"/>
<text x="407.7" y="255.3" font-size="10" font-style="italic" fill="#111" stroke="#111" stroke-width="0.12" text-anchor="middle" textLength="28.7" lengthAdjust="spacingAndGlyphs">KLRC2</text>
<g transform="translate(344.90 232.30) scale(0.822 0.878)">
<g filter="url(#rough3)"><g clip-path="url(#cLR)"><g filter="url(#cm7)"><rect x="15" y="25" width="120" height="95" fill="#3d3d3d"/><ellipse cx="38.0" cy="53.0" rx="12.0" ry="9.0" fill="#b2b2b2"/><ellipse cx="33.0" cy="71.0" rx="12.0" ry="10.0" fill="#212121"/><ellipse cx="35.0" cy="92.0" rx="11.0" ry="8.0" fill="#666666"/><ellipse cx="37.0" cy="97.0" rx="6.0" ry="5.0" fill="#999999"/><ellipse cx="38.0" cy="105.0" rx="4.0" ry="4.0" fill="#666666"/><ellipse cx="87.0" cy="41.0" rx="12.0" ry="8.0" fill="#b2b2b2"/><ellipse cx="104.0" cy="60.0" rx="22.0" ry="16.0" fill="#454545"/><ellipse cx="116.0" cy="66.0" rx="6.0" ry="8.0" fill="#1f1f1f"/><ellipse cx="103.0" cy="58.0" rx="5.0" ry="5.0" fill="#1f1f1f"/><ellipse cx="84.0" cy="74.0" rx="5.0" ry="5.0" fill="#b2b2b2"/><ellipse cx="99.0" cy="90.0" rx="15.0" ry="10.0" fill="#6b6b6b"/><ellipse cx="92.0" cy="96.0" rx="7.0" ry="6.0" fill="#adadad"/></g><g filter="url(#spk15)" fill="#fff"><rect x="15" y="25" width="120" height="95"/></g><g filter="url(#spk30)" fill="#fff"><ellipse cx="106" cy="69" rx="4.5" ry="5"/><ellipse cx="85.5" cy="70" rx="2.5" ry="8"/><ellipse cx="40" cy="82" rx="2" ry="7"/><ellipse cx="93" cy="47" rx="4" ry="1.5"/></g></g></g>
</g>
<use href="#PC" x="359.80" y="334.50" stroke="#111" stroke-width="1.25" stroke-dasharray="3.6 2.2"/>
<rect x="460.0" y="281.9" width="7.6" height="30.8" fill="url(#cb)" stroke="#333" stroke-width="0.6"/>
<text x="469.5" y="286.9" font-size="7.4" fill="#111" stroke="#111" stroke-width="0.15">5</text>
<text x="469.5" y="292.8" font-size="7.4" fill="#111" stroke="#111" stroke-width="0.15">4</text>
<text x="469.5" y="298.8" font-size="7.4" fill="#111" stroke="#111" stroke-width="0.15">3</text>
<text x="469.5" y="305.5" font-size="7.4" fill="#111" stroke="#111" stroke-width="0.15">2</text>
<text x="469.5" y="311.9" font-size="7.4" fill="#111" stroke="#111" stroke-width="0.15">1</text>
<text transform="translate(15.3 333) rotate(-90)" font-size="9.8" fill="#111" stroke="#111" stroke-width="0.15" textLength="27.4" lengthAdjust="spacingAndGlyphs">UMAP-2</text>
<path d="M11.9 302.3V166.5" stroke="#333" stroke-width="1.7" fill="none"/><path d="M11.9 160.7L8.0 167.6H15.9Z" fill="#000"/>
<text x="23.4" y="345.1" font-size="9.8" fill="#111" stroke="#111" stroke-width="0.15" textLength="26.2" lengthAdjust="spacingAndGlyphs">UMAP-1</text>
<path d="M58.5 341.6H448" stroke="#333" stroke-width="1.6" fill="none"/><path d="M453.6 341.6L446.8 337.9V345.3Z" fill="#000"/>
<path d="M35.7 386.6V462.2H136.3" fill="none" stroke="#111" stroke-width="1.3"/>
<path d="M32.6 462.20H35.7" stroke="#111" stroke-width="1.2"/>
<text x="30.8" y="465.3" font-size="8.8" fill="#111" text-anchor="end" textLength="4.8" lengthAdjust="spacingAndGlyphs">0</text>
<path d="M32.6 438.17H35.7" stroke="#111" stroke-width="1.2"/>
<text x="30.8" y="441.3" font-size="8.8" fill="#111" text-anchor="end" textLength="9.6" lengthAdjust="spacingAndGlyphs">20</text>
<path d="M32.6 414.13H35.7" stroke="#111" stroke-width="1.2"/>
<text x="30.8" y="417.2" font-size="8.8" fill="#111" text-anchor="end" textLength="9.6" lengthAdjust="spacingAndGlyphs">40</text>
<path d="M32.6 390.10H35.7" stroke="#111" stroke-width="1.2"/>
<text x="30.8" y="393.2" font-size="8.8" fill="#111" text-anchor="end" textLength="9.6" lengthAdjust="spacingAndGlyphs">60</text>
<path d="M57.7 462.2V465.3" stroke="#111" stroke-width="1.2"/>
<text x="57.7" y="473.7" font-size="8.4" fill="#111" text-anchor="middle" textLength="23.0" lengthAdjust="spacingAndGlyphs">Donor</text>
<path d="M90.2 462.2V465.3" stroke="#111" stroke-width="1.2"/>
<text x="90.2" y="473.7" font-size="8.4" fill="#111" text-anchor="middle" textLength="14.8" lengthAdjust="spacingAndGlyphs">D14</text>
<path d="M122.4 462.2V465.3" stroke="#111" stroke-width="1.2"/>
<text x="122.4" y="473.7" font-size="8.4" fill="#111" text-anchor="middle" textLength="15.3" lengthAdjust="spacingAndGlyphs">D50</text>
<text x="88.5" y="485.3" font-size="9.2" fill="#111" text-anchor="middle" textLength="33.5" lengthAdjust="spacingAndGlyphs">Timepoint</text>
<text transform="translate(15.3 424.7) rotate(-90)" font-size="9.4" fill="#111" text-anchor="middle" textLength="61.5" lengthAdjust="spacingAndGlyphs">Percent of NK cells</text>
<path d="M57.7 428.6L90.2 438.2L122.4 418.3" fill="none" stroke="#4f1f78" stroke-width="1.35"/>
<path d="M57.7 426.2L60.1 430.4H55.3Z" fill="#4f1f78"/>
<path d="M90.2 435.8L92.6 440.0H87.8Z" fill="#4f1f78"/>
<path d="M122.4 416.0L124.8 420.2H120.0Z" fill="#4f1f78"/>
<path d="M57.7 408.7L90.2 447.2L122.4 449.6" fill="none" stroke="#0f3a7a" stroke-width="1.35"/>
<circle cx="57.7" cy="408.7" r="2.2" fill="#0f3a7a"/>
<circle cx="90.2" cy="447.2" r="2.2" fill="#0f3a7a"/>
<circle cx="122.4" cy="449.6" r="2.2" fill="#0f3a7a"/>
<path d="M57.7 460.4L90.2 399.1L122.4 415.3" fill="none" stroke="#2fb83e" stroke-width="1.35"/>
<rect x="55.5" y="458.1" width="4.5" height="4.5" fill="#2fb83e"/>
<rect x="88.0" y="396.9" width="4.5" height="4.5" fill="#2fb83e"/>
<rect x="120.2" y="413.1" width="4.5" height="4.5" fill="#2fb83e"/>
<path d="M57.7 431.0L90.2 446.0L122.4 447.8" fill="none" stroke="#1eaaf0" stroke-width="1.35"/>
<path d="M57.7 428.2L60.2 431.0L57.7 433.7L55.2 431.0Z" fill="#1eaaf0"/>
<path d="M90.2 443.2L92.7 446.0L90.2 448.7L87.7 446.0Z" fill="#1eaaf0"/>
<path d="M122.4 445.0L124.9 447.8L122.4 450.5L119.9 447.8Z" fill="#1eaaf0"/>
<path d="M138.1 423.5H149.9" stroke="#4f1f78" stroke-width="1.3"/>
<path d="M144.0 421.6L145.9 425.0H142.1Z" fill="#4f1f78"/>
<text x="152.9" y="425.6" font-size="7.7" fill="#111" textLength="17.9" lengthAdjust="spacingAndGlyphs">CD56</text>
<text x="171.5" y="422.8" font-size="5.4" fill="#111">bright</text>
<path d="M138.1 431.9H149.9" stroke="#0f3a7a" stroke-width="1.3"/>
<circle cx="144.0" cy="431.9" r="1.8" fill="#0f3a7a"/>
<text x="152.9" y="434.1" font-size="7.7" fill="#111" textLength="17.9" lengthAdjust="spacingAndGlyphs">CD56</text>
<text x="171.5" y="431.3" font-size="5.4" fill="#111">dim</text>
<path d="M138.1 439.9H149.9" stroke="#2fb83e" stroke-width="1.3"/>
<rect x="142.2" y="438.1" width="3.6" height="3.6" fill="#2fb83e"/>
<text x="152.9" y="442.0" font-size="7.7" fill="#111" textLength="9.8" lengthAdjust="spacingAndGlyphs">ML</text>
<path d="M138.1 448.1H149.9" stroke="#1eaaf0" stroke-width="1.3"/>
<path d="M144.0 445.9L146.0 448.1L144.0 450.3L142.0 448.1Z" fill="#1eaaf0"/>
<text x="152.9" y="450.1" font-size="7.7" fill="#111" textLength="28.9" lengthAdjust="spacingAndGlyphs">Adaptive</text>
</svg></body></html>
